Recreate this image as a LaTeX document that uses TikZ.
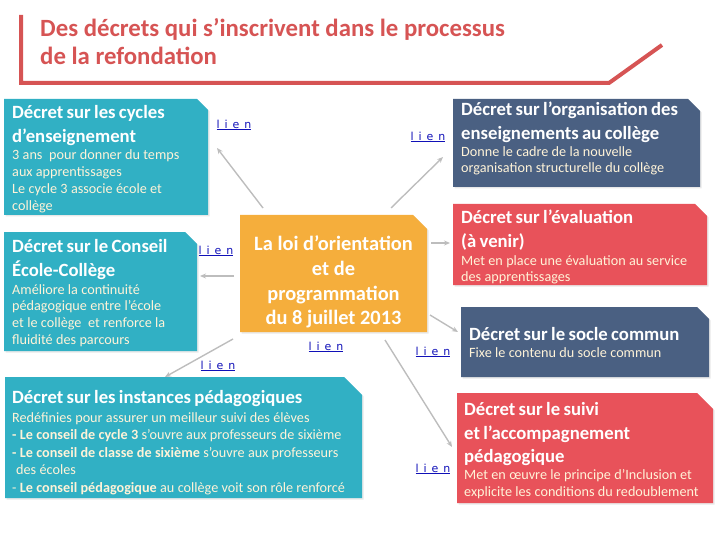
\documentclass[tikz,border=0pt]{standalone}
\usepackage{fontspec}
\setmainfont{Carlito}
\newfontfamily\lienfont[LetterSpace=45]{DejaVu Sans}
\usetikzlibrary{arrows.meta,shadows}
\definecolor{cteal}{HTML}{31B0C4}
\definecolor{cslate}{HTML}{4A6082}
\definecolor{cred}{HTML}{E8525A}
\definecolor{corange}{HTML}{F5AE3C}
\definecolor{ctitle}{HTML}{D65454}
\definecolor{cbody}{HTML}{FFF3D8}
\definecolor{clink}{HTML}{1010B8}
\definecolor{carrow}{HTML}{BDBDBD}
\newcommand\ttlf{\fontsize{18.7}{23.3}\selectfont\bfseries\color{white}}
\newcommand\bdyf{\fontsize{14.2}{16.9}\selectfont\color{cbody}}
\newcommand\decbox[7]{%
  \fill[#2, drop shadow={opacity=0.18, shadow xshift=1.5pt, shadow yshift=-1.5pt}]
    (#3,#4) -- ({#5-#7},#4) -- (#5,{#4+#7}) -- (#5,#6) -- (#3,#6) -- cycle;
  \node[inner sep=0pt, minimum width={(#5-#3)*1pt}, minimum height={(#6-#4)*1pt}, anchor=north west] (#1) at (#3,#4) {};
}
\tikzset{
  txt/.style={inner sep=0pt, anchor=north west, text width=360pt, align=left},
  lien/.style={inner sep=0pt, text=clink, font=\lienfont\fontsize{11}{12}\selectfont},
  arr/.style={draw=carrow, line width=1.4pt, -{Stealth[length=6pt,width=5pt]}},
}
\begin{document}
\begin{tikzpicture}[x=1pt,y=-1pt]
\useasboundingbox (0,0) rectangle (720,540);
% title frame
\draw[ctitle, line width=4pt, line join=miter] (21,15) -- (21,83) -- (609,83) -- (662,45);
\node[inner sep=0pt, anchor=north west, align=left, text=ctitle, font=\fontsize{24.8}{27.5}\selectfont\bfseries] (title) at (40,18.5)
  {Des décrets qui s’inscrivent dans le processus\\de la refondation};

% boxes
\decbox{cyc}{cteal}{4}{99}{208}{215}{11}
\decbox{org}{cslate}{453}{99}{700}{187}{12}
\decbox{cec}{cteal}{4}{232}{197}{351}{12}
\decbox{loi}{corange}{240}{215}{427}{332}{14}
\decbox{eva}{cred}{453}{204}{707}{285}{12}
\decbox{soc}{cslate}{461}{307}{709}{377}{12}
\decbox{ins}{cteal}{5}{377}{362}{498}{18}
\decbox{sui}{cred}{457}{393}{713}{503}{16}

% texts
\node[txt] (cyct) at (12,105.5) {{\ttlf Décret sur les cycles\\d’enseignement\par}\vspace{0.5pt}{\bdyf 3 ans~ pour donner du temps\\aux apprentissages\\Le cycle 3 associe école et\\collège\par}};
\node[txt] (orgt) at (461,102) {{\ttlf Décret sur l’organisation des\\enseignements au collège\par}{\bdyf Donne le cadre de la nouvelle\\organisation structurelle du collège\par}};
\node[txt] (cect) at (12,239.5) {{\ttlf Décret sur le Conseil\\École-Collège\par}\vspace{1pt}{\bdyf Améliore la continuité\\pédagogique entre l’école\\et le collège~ et renforce la\\fluidité des parcours\par}};
\node[txt] (evat) at (461,210) {{\ttlf Décret sur l’évaluation\\(à venir)\par}\vspace{1pt}{\bdyf Met en place une évaluation au service\\des apprentissages\par}};
\node[txt] (soct) at (469,327) {{\ttlf Décret sur le socle commun\par}{\bdyf Fixe le contenu du socle commun\par}};
\node[txt] (inst) at (12,390) {{\ttlf Décret sur les instances pédagogiques\par}\vspace{1.5pt}{\bdyf\baselineskip=17.5pt Redéfinies pour assurer un meilleur suivi des élèves\\\textbf{- Le conseil de cycle 3} s’ouvre aux professeurs de sixième\\\textbf{- Le conseil de classe de sixième} s’ouvre aux professeurs\\\hspace*{4pt}des écoles\\- \textbf{Le conseil pédagogique} au collège voit son rôle renforcé\par}};
\node[txt] (suit) at (464,402.5) {{\ttlf Décret sur le suivi\\et l’accompagnement\\pédagogique\par}\vspace{0.5pt}{\bdyf Met en œuvre le principe d’Inclusion et\\explicite les conditions du redoublement\par}};
\node[inner sep=0pt, anchor=north, align=center, text=white, font=\fontsize{20.4}{24.8}\selectfont\bfseries] (loit) at (333.5,235.5)
  {La loi d’orientation\\et de\\programmation\\du 8 juillet 2013};

% liens
\node[lien] (l1) at (234,125) {\underline{lien}};
\node[lien] (l2) at (428,137) {\underline{lien}};
\node[lien] (l3) at (216,251) {\underline{lien}};
\node[lien] (l4) at (218,366) {\underline{lien}};
\node[lien] (l5) at (326,347) {\underline{lien}};
\node[lien] (l6) at (433,352) {\underline{lien}};
\node[lien] (l7) at (433,469) {\underline{lien}};

% arrows
\coordinate (a1s) at (263,208); \coordinate (a1e) at (217,148);
\coordinate (a2s) at (391,208); \coordinate (a2e) at (443,157);
\coordinate (a3s) at (234,276); \coordinate (a3e) at (200,276);
\coordinate (a4s) at (431,243); \coordinate (a4e) at (450,243);
\coordinate (a5s) at (430,315); \coordinate (a5e) at (458,332);
\coordinate (a6s) at (233,339); \coordinate (a6e) at (165,377);
\coordinate (a7s) at (385,340); \coordinate (a7e) at (452,447);
\draw[arr] (a1s) -- (a1e);
\draw[arr] (a2s) -- (a2e);
\draw[arr] (a3s) -- (a3e);
\draw[arr] (a4s) -- (a4e);
\draw[arr] (a5s) -- (a5e);
\draw[arr] (a6s) -- (a6e);
\draw[arr] (a7s) -- (a7e);
\end{tikzpicture}
\end{document}
